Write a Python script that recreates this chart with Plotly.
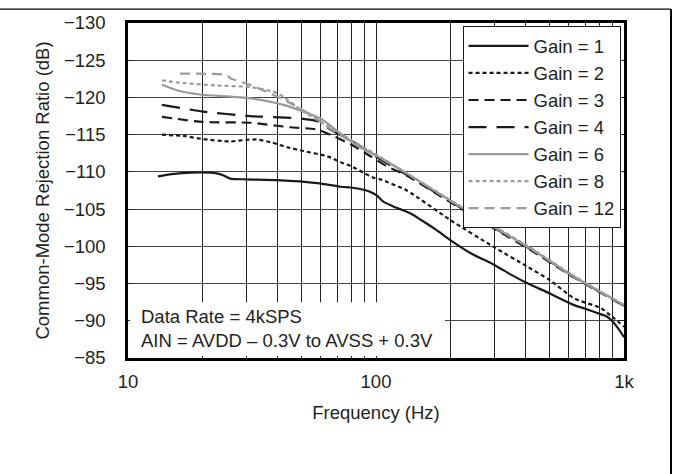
import plotly.graph_objects as go

# ---- data ----
gain_names = ["Gain = 1", "Gain = 2", "Gain = 3", "Gain = 4", "Gain = 6", "Gain = 8", "Gain = 12"]

f_g1 = [13.2, 15, 18, 22.8, 24.2, 25.8, 30, 40, 58, 72, 79, 89, 95, 101, 107, 115, 125, 138, 151, 175, 200, 240, 300, 350, 410, 500, 630, 700, 785, 850, 900, 950, 1000]
v_g1 = [-109.4, -109.7, -109.9, -109.8, -109.55, -109.1, -109.0, -108.9, -108.5, -108.0, -107.9, -107.6, -107.3, -106.8, -106.0, -105.5, -105.0, -104.4, -103.6, -102.2, -100.8, -99.1, -97.5, -96.2, -95.0, -93.7, -92.1, -91.6, -91.0, -90.6, -89.9, -88.9, -87.8]

f_g2 = [13.7, 17, 20.1, 25.8, 30, 33.1, 37.5, 44, 51, 63.5, 72, 79, 90, 98, 104, 133, 200, 299, 411, 500, 630, 807, 900, 1000]
v_g2 = [-115.0, -114.8, -114.4, -114.1, -114.3, -114.35, -114.0, -113.3, -112.8, -112.1, -111.3, -110.8, -109.8, -109.2, -109.0, -107.5, -103.5, -99.9, -97.2, -95.5, -93.0, -91.7, -90.5, -89.2]

f_g3 = [13.7, 20.1, 31, 45, 58, 65.5, 79, 95, 110, 133, 200, 299, 411, 630, 1000]
v_g3 = [-117.4, -116.7, -116.6, -116.0, -115.7, -115.0, -113.7, -112.1, -110.8, -109.5, -105.9, -102.4, -99.7, -95.8, -92.0]

f_g4 = [13.7, 20.1, 31, 48, 58, 65.5, 84, 104, 133, 200, 299, 411, 630, 1000]
v_g4 = [-119.0, -118.1, -117.5, -117.2, -116.8, -115.7, -113.7, -111.7, -109.6, -106.0, -102.5, -99.8, -95.9, -92.0]

f_g6 = [13.7, 16, 19.5, 31, 42.4, 59.6, 69.6, 84, 104, 133, 200, 299, 411, 630, 1000]
v_g6 = [-121.7, -120.9, -120.4, -119.9, -119.0, -117.2, -115.5, -113.5, -111.9, -109.8, -106.1, -102.6, -99.9, -95.9, -92.1]

f_g8 = [13.7, 16, 22.8, 31, 39.9, 51, 65.5, 84, 104, 133, 200, 299, 411, 630, 1000]
v_g8 = [-122.3, -122.0, -121.6, -121.4, -120.6, -118.1, -115.9, -113.8, -112.0, -109.8, -106.2, -102.7, -100.0, -96.0, -92.1]

f_g12 = [16.2, 25, 25.8, 31, 42.4, 54.4, 69.6, 84, 104, 133, 200, 299, 411, 630, 1000]
v_g12 = [-123.2, -123.0, -122.6, -121.7, -119.7, -117.7, -115.2, -113.6, -111.9, -109.8, -106.1, -102.6, -99.9, -95.9, -92.1]

y_ticks = [-130, -125, -120, -115, -110, -105, -100, -95, -90, -85]
x_grid = [10, 20, 30, 40, 50, 60, 70, 80, 90, 100, 200, 300, 400, 500, 600, 700, 800, 900, 1000]
x_labels = {10: "10", 100: "100", 1000: "1k"}

# ---- styles ----
GRAY = "#9a9a9a"
BLK = "#1a1a1a"
styles = [
    dict(color=BLK, dash="solid"),
    dict(color=BLK, dash="4px,3px"),
    dict(color=BLK, dash="10px,6px"),
    dict(color=BLK, dash="18px,10px"),
    dict(color=GRAY, dash="solid"),
    dict(color=GRAY, dash="4px,3px"),
    dict(color=GRAY, dash="10px,6px"),
]
series = [(f_g1, v_g1), (f_g2, v_g2), (f_g3, v_g3), (f_g4, v_g4), (f_g6, v_g6), (f_g8, v_g8), (f_g12, v_g12)]

fig = go.Figure()
for name, (fx, vy), st in zip(gain_names, series, styles):
    fig.add_trace(go.Scatter(
        x=fx, y=vy, name=name, mode="lines",
        line=dict(color=st["color"], dash=st["dash"], width=2.2, shape="spline", smoothing=0.6),
    ))

FONT = "Liberation Sans, Arial, Helvetica, sans-serif"
TXT = "#231f20"
FS = 18.5

fig.update_layout(
    width=673, height=474,
    margin=dict(l=128, r=49, t=21, b=116),
    paper_bgcolor="white", plot_bgcolor="white",
    font=dict(family=FONT, size=FS, color=TXT),
    showlegend=True,
    legend=dict(
        x=0.993, y=0.99, xanchor="right", yanchor="top",
        bgcolor="white", bordercolor=BLK, borderwidth=1,
        font=dict(size=FS, color=TXT), itemwidth=60,
        tracegroupgap=0,
    ),
)

fig.update_xaxes(
    type="log", range=[1, 3],
    tickmode="array", tickvals=x_grid,
    ticktext=[x_labels.get(v, "") for v in x_grid],
    showgrid=True, gridcolor="#222222", gridwidth=1,
    showline=True, linecolor="black", linewidth=2.5, mirror="allticks",
    ticks="inside", ticklen=5, tickcolor="#222222",
    ticklabelstandoff=5,
    tickfont=dict(size=FS, color=TXT),
    title=dict(text="Frequency (Hz)", font=dict(size=FS, color=TXT), standoff=16),
    zeroline=False,
)
fig.update_yaxes(
    range=[-85, -130],
    tickmode="array", tickvals=y_ticks,
    ticktext=[("\u2212" + str(abs(v))) for v in y_ticks],
    showgrid=True, gridcolor="#444444", gridwidth=1,
    showline=True, linecolor="black", linewidth=2.5, mirror="allticks",
    ticks="inside", ticklen=5, tickcolor="#222222",
    ticklabelstandoff=16,
    tickfont=dict(size=FS, color=TXT),
    title=dict(text="Common-Mode Rejection Ratio (dB)", font=dict(size=FS, color=TXT), standoff=10),
    zeroline=False,
)

# white box behind the condition notes (covers grid, inset from the frame)
fig.add_shape(type="rect", xref="x domain", yref="y domain",
              x0=2 / 496, x1=(445 - 128) / 496, y0=2 / 337, y1=(358 - 302) / 337,
              fillcolor="white", line=dict(width=0), layer="above")
fig.add_annotation(
    xref="x domain", yref="y domain", x=(139 - 128) / 496, y=(358 - 304) / 337,
    xanchor="left", yanchor="top", align="left", showarrow=False,
    text="Data Rate = 4kSPS<br>AIN = AVDD \u2013 0.3V to AVSS + 0.3V",
    font=dict(size=FS, color=TXT, family=FONT),
)

# page frame lines (top and right)
fig.add_shape(type="line", xref="paper", yref="paper",
              x0=-128 / 496, x1=(671 - 128) / 496, y0=(358 - 7) / 337, y1=(358 - 7) / 337,
              line=dict(color="black", width=1.2))
fig.add_shape(type="line", xref="paper", yref="paper",
              x0=(671 - 128) / 496, x1=(671 - 128) / 496, y0=(358 - 7) / 337, y1=(358 - 480) / 337,
              line=dict(color="black", width=2))

fig.write_html("out.html", config={"displayModeBar": False},
               post_script="document.body.style.margin='0';")
